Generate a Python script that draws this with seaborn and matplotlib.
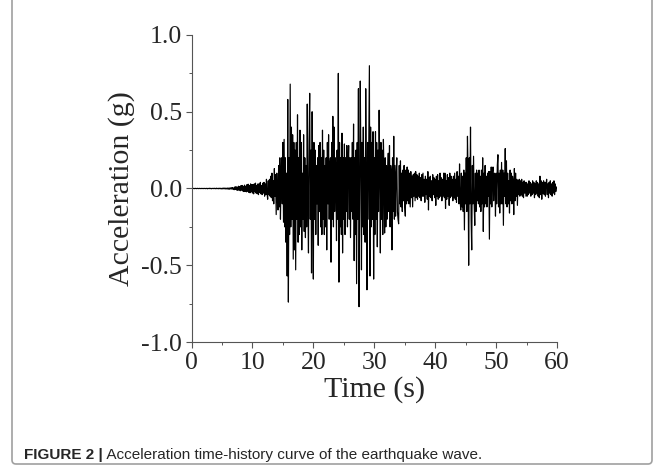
import numpy as np
import pandas as pd
import seaborn as sns
import matplotlib.pyplot as plt
from matplotlib.ticker import MultipleLocator, FormatStrFormatter
from matplotlib.patches import FancyBboxPatch

# sampling step of the record (s)
dt = 0.1

# acceleration (g), one row = 1 s
acc_00_10 = [
    0.000, 0.001, -0.001, 0.000, 0.001, -0.001, 0.000, 0.001, -0.001, 0.000,
    0.001, -0.001, 0.000, 0.001, -0.001, 0.000, 0.001, -0.001, 0.000, 0.001,
    -0.001, 0.000, 0.001, -0.001, 0.000, 0.001, -0.002, 0.001, 0.000, -0.001,
    0.002, -0.001, 0.001, -0.002, 0.001, 0.000, -0.001, 0.002, -0.001, 0.001,
    -0.002, 0.002, -0.001, 0.001, -0.002, 0.002, -0.001, 0.002, -0.002, 0.001,
    -0.003, 0.002, -0.002, 0.003, -0.002, 0.003, -0.003, 0.002, -0.003, 0.003,
    -0.004, 0.003, -0.005, 0.004, -0.003, 0.005, -0.004, 0.006, -0.005, 0.004,
    -0.008, 0.010, -0.006, 0.012, -0.010, 0.008, -0.012, 0.015, -0.010, 0.012,
    -0.015, 0.018, -0.012, 0.020, -0.016, 0.014, -0.020, 0.022, -0.018, 0.015,
    -0.022, 0.025, -0.018, 0.028, -0.025, 0.020, -0.028, 0.030, -0.022, 0.026,
]
acc_10_20 = [
    -0.030, 0.025, -0.035, 0.030, -0.020, 0.035, -0.030, 0.020, -0.035, 0.030,
    -0.040, 0.030, -0.025, 0.040, -0.035, 0.020, -0.040, 0.035, -0.030, 0.040,
    -0.050, 0.030, -0.040, 0.060, -0.030, -0.070, 0.050, -0.040, 0.060, -0.050,
    0.080, -0.060, 0.100, -0.080, 0.050, -0.100, 0.130, -0.050, 0.090, -0.170,
    0.100, -0.080, -0.140, 0.150, -0.120, 0.200, -0.200, 0.050, 0.200, -0.100,
    0.300, -0.220, 0.320, -0.250, 0.200, -0.350, 0.100, -0.570, 0.580, -0.740,
    0.200, -0.300, 0.680, -0.250, 0.400, -0.200, 0.350, -0.460, 0.300, -0.400,
    0.250, -0.530, 0.300, -0.200, 0.480, -0.350, 0.200, -0.300, 0.380, -0.250,
    0.300, -0.400, 0.100, -0.200, 0.350, -0.280, 0.200, -0.320, 0.150, -0.250,
    0.550, -0.100, -0.420, 0.300, 0.620, -0.200, 0.250, -0.550, 0.500, -0.150,
]
acc_20_30 = [
    -0.590, 0.300, -0.200, 0.250, -0.300, 0.150, -0.100, 0.200, -0.370, 0.280,
    -0.150, 0.300, -0.250, 0.200, -0.300, 0.380, -0.200, 0.250, -0.300, 0.150,
    -0.250, 0.200, -0.400, 0.300, -0.100, 0.350, -0.200, 0.150, 0.200, -0.480,
    0.300, -0.200, 0.470, -0.250, 0.400, -0.150, 0.200, 0.100, -0.340, 0.250,
    -0.200, 0.750, -0.610, 0.300, -0.250, 0.200, -0.300, 0.360, -0.420, 0.200,
    -0.200, 0.290, -0.300, 0.200, -0.150, 0.280, -0.250, 0.150, 0.280, -0.200,
    0.200, -0.320, 0.200, -0.150, 0.300, -0.200, 0.420, -0.470, 0.200, -0.300,
    0.250, -0.620, 0.300, -0.200, 0.650, -0.770, -0.100, 0.700, 0.200, -0.530,
    0.300, -0.250, 0.400, -0.300, 0.200, -0.350, 0.650, 0.100, -0.660, 0.300,
    -0.200, 0.300, 0.800, -0.570, 0.400, -0.250, 0.300, -0.200, 0.370, -0.590,
]
acc_30_40 = [
    0.200, -0.300, 0.370, -0.200, 0.300, -0.380, 0.250, -0.150, 0.510, 0.100,
    -0.420, 0.300, -0.200, 0.250, -0.300, 0.320, 0.100, -0.290, 0.200, -0.250,
    0.150, -0.200, 0.100, 0.230, -0.150, 0.280, -0.250, 0.150, 0.100, -0.400,
    0.200, -0.150, 0.340, -0.200, 0.150, -0.180, 0.100, 0.200, -0.150, -0.200,
    -0.230, 0.150, -0.100, 0.180, -0.120, 0.100, -0.150, 0.120, -0.080, 0.150,
    -0.120, -0.180, 0.120, -0.100, 0.140, -0.080, 0.120, -0.100, 0.100, -0.120,
    0.110, -0.060, 0.080, -0.120, 0.090, -0.050, 0.100, -0.080, 0.110, -0.060,
    0.090, -0.070, 0.080, -0.050, 0.100, -0.060, 0.070, -0.080, 0.090, -0.050,
    0.100, -0.050, 0.060, -0.090, 0.080, -0.040, 0.060, -0.070, 0.110, -0.140,
    0.070, -0.050, 0.080, -0.060, 0.050, -0.080, 0.090, -0.040, 0.070, -0.060,
]
acc_40_50 = [
    0.060, -0.110, 0.080, -0.050, 0.090, -0.070, 0.050, -0.060, 0.100, -0.050,
    0.070, -0.080, 0.060, -0.050, 0.100, -0.060, 0.100, -0.130, 0.050, -0.070,
    0.090, -0.050, 0.070, -0.110, 0.100, -0.060, 0.080, -0.050, 0.060, -0.080,
    0.080, -0.060, 0.100, -0.070, 0.060, -0.090, 0.110, -0.050, 0.080, -0.100,
    0.160, -0.080, -0.140, 0.100, -0.120, 0.080, -0.150, 0.120, -0.270, 0.100,
    -0.100, 0.200, -0.150, 0.340, 0.100, -0.500, 0.200, -0.100, 0.400, -0.200,
    -0.400, 0.150, -0.100, 0.210, -0.100, -0.240, 0.100, -0.150, 0.120, -0.080,
    0.100, -0.100, 0.120, -0.120, 0.080, -0.150, 0.120, -0.100, 0.200, -0.280,
    0.100, -0.120, 0.150, -0.100, 0.080, -0.120, 0.100, -0.050, 0.110, -0.330,
    0.110, -0.100, 0.140, -0.120, 0.100, 0.140, -0.080, 0.100, 0.050, -0.180,
]
acc_50_60 = [
    0.100, -0.100, 0.150, 0.220, -0.120, 0.100, -0.160, 0.120, -0.100, 0.170,
    -0.100, 0.120, -0.240, 0.100, -0.050, 0.260, -0.100, 0.180, -0.120, 0.100,
    -0.100, 0.050, -0.160, 0.120, -0.080, 0.100, -0.100, 0.080, 0.050, -0.170,
    0.130, -0.080, 0.100, -0.050, 0.060, -0.110, 0.050, -0.040, 0.060, -0.050,
    0.050, -0.040, 0.060, -0.050, 0.040, -0.060, 0.050, -0.030, 0.040, -0.050,
    0.040, -0.050, 0.030, -0.040, 0.050, -0.030, 0.040, -0.050, 0.030, -0.040,
    0.050, -0.030, 0.040, -0.060, 0.030, -0.040, 0.050, -0.030, 0.040, -0.050,
    0.030, -0.060, 0.080, -0.040, 0.050, -0.070, 0.040, -0.030, 0.050, -0.040,
    0.040, -0.050, 0.030, 0.060, -0.040, 0.030, -0.060, 0.040, -0.030, 0.050,
    -0.040, 0.030, -0.050, 0.040, -0.030, 0.050, -0.040, 0.030, -0.020, 0.010,
    0.000,
]

x_ticks = [0, 10, 20, 30, 40, 50, 60]
y_ticks = [-1.0, -0.5, 0.0, 0.5, 1.0]
caption_bold = "FIGURE 2 |"
caption_text = " Acceleration time-history curve of the earthquake wave."

acc = acc_00_10 + acc_10_20 + acc_20_30 + acc_30_40 + acc_40_50 + acc_50_60
df = pd.DataFrame({"time": np.arange(len(acc)) * dt, "acc": acc})

sns.set_style("ticks")
plt.rcParams["font.family"] = ["Liberation Serif", "DejaVu Serif"]
plt.rcParams["axes.unicode_minus"] = False

fig = plt.figure(figsize=(6.65, 4.76), dpi=100)
ax = fig.add_axes([0.288, 0.2815, 0.5496, 0.645])

sns.lineplot(data=df, x="time", y="acc", ax=ax, color="black",
             linewidth=0.85, estimator=None, sort=False)

ax.set_xlim(0, 60)
ax.set_ylim(-1.0, 1.0)
ax.set_xticks(x_ticks)
ax.set_yticks(y_ticks)
ax.xaxis.set_minor_locator(MultipleLocator(5))
ax.yaxis.set_minor_locator(MultipleLocator(0.25))
ax.yaxis.set_major_formatter(FormatStrFormatter("%.1f"))
ax.tick_params(which="major", direction="out", length=4, width=0.8,
               color="#555555", labelsize=18.5, pad=3)
ax.tick_params(which="minor", direction="out", length=2.5, width=0.7,
               color="#555555")
ax.set_xlabel("Time (s)", fontsize=21.5, labelpad=2)
ax.set_ylabel("Acceleration (g)", fontsize=21.5, labelpad=4)
sns.despine(ax=ax)
for s in ["left", "bottom"]:
    ax.spines[s].set_color("#555555")
    ax.spines[s].set_linewidth(0.8)

# frame around the figure panel (bottom edge runs off the image)
frame = FancyBboxPatch((12, 12), 640, 480, boxstyle="round,pad=0,rounding_size=4",
                       transform=None, fill=False, edgecolor="#a0a0a0",
                       linewidth=1.2)
frame.set_transform(fig.dpi_scale_trans.inverted() + fig.dpi_scale_trans)
fig.patches.append(frame)

# caption, bold label then plain text
cap_fam = ["Liberation Sans Narrow", "Liberation Sans", "DejaVu Sans"]
t1 = fig.text(24 / 665, 1 - 459 / 476, caption_bold, fontsize=11,
              fontweight="bold", family=cap_fam, va="baseline")
fig.canvas.draw()
bb = t1.get_window_extent()
fig.text(bb.x1 / 665, 1 - 459 / 476, caption_text, fontsize=11,
         family=cap_fam, va="baseline")

fig.savefig("out.png", dpi=100)
